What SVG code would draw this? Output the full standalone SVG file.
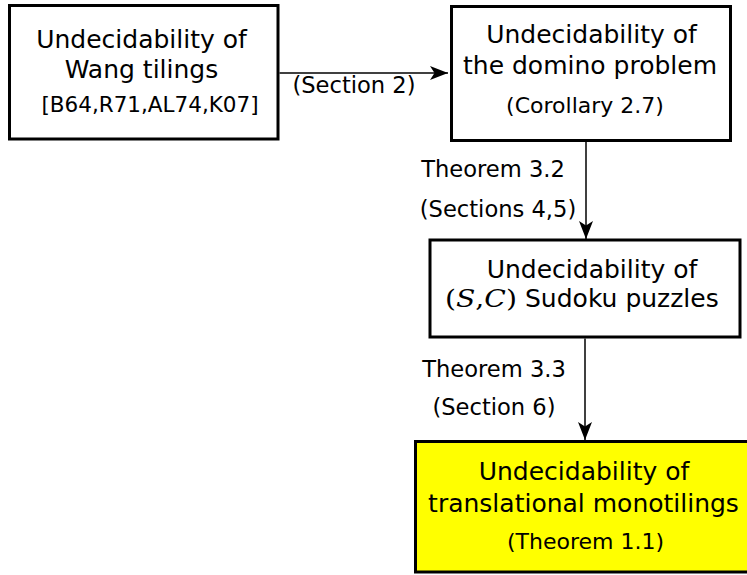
<svg xmlns="http://www.w3.org/2000/svg" width="747" height="575" viewBox="0 0 747 575">
<style>
.box{fill:#fff;stroke:#000;stroke-width:3}
.hl{fill:#ffff00}
.t{font-family:"DejaVu Sans",Verdana,sans-serif;font-size:25px;fill:#000;text-anchor:middle}
.s{font-family:"DejaVu Sans",Verdana,sans-serif;font-size:22px;fill:#000;text-anchor:middle}
.l{font-family:"DejaVu Sans",Verdana,sans-serif;font-size:22.6px;fill:#000;text-anchor:middle}
.m{font-family:"DejaVu Serif","Liberation Serif",serif;font-size:25px;fill:#000}
.e{stroke:#000;stroke-width:1.5;fill:none}
</style>
<defs>
<marker id="ah" markerUnits="userSpaceOnUse" markerWidth="19" markerHeight="15" refX="18" refY="7.5" orient="auto">
<path d="M0,0.5 L18,7.5 L0,14.5 L4.5,7.5 z" fill="#000"/>
</marker>
</defs>
<g id="wang">
<rect class="box" x="9.5" y="5.5" width="268.5" height="133.5"/>
<text class="t" x="141.5" y="48">Undecidability of</text>
<text class="t" x="141.5" y="78">Wang tilings</text>
<text class="s" x="150" y="112" style="font-size:21.5px">[B64,R71,AL74,K07]</text>
</g>
<g id="domino">
<rect class="box" x="451.5" y="6.5" width="279" height="134"/>
<text class="t" x="591.5" y="43">Undecidability of</text>
<text class="t" x="590" y="74">the domino problem</text>
<text class="s" x="585" y="113">(Corollary 2.7)</text>
</g>
<g id="sudoku">
<rect class="box" x="430" y="240" width="310" height="97"/>
<text class="t" x="592" y="278">Undecidability of</text>
<text class="m" x="445" y="306.5" textLength="72" lengthAdjust="spacingAndGlyphs">(<tspan font-style="italic">S</tspan>,<tspan font-style="italic">C</tspan>)</text>
<text class="t" x="525" y="306.5" style="text-anchor:start">Sudoku puzzles</text>
</g>
<g id="monotiling">
<rect class="box hl" x="415.5" y="441.5" width="340" height="130.5"/>
<text class="t" x="584" y="480">Undecidability of</text>
<text class="t" x="583.5" y="511.5">translational monotilings</text>
<text class="s" x="585.5" y="548.5">(Theorem 1.1)</text>
</g>
<g id="connectors">
<line class="e" x1="279.5" y1="73" x2="448" y2="73" marker-end="url(#ah)"/>
<line class="e" x1="586" y1="142" x2="586" y2="239" marker-end="url(#ah)"/>
<line class="e" x1="585" y1="338.5" x2="585" y2="440" marker-end="url(#ah)"/>
<text class="l" x="354" y="93">(Section 2)</text>
<text class="l" x="493" y="176.5">Theorem 3.2</text>
<text class="l" x="498" y="216.5">(Sections 4,5)</text>
<text class="l" x="494" y="376.5">Theorem 3.3</text>
<text class="l" x="494" y="415">(Section 6)</text>
</g>
</svg>
